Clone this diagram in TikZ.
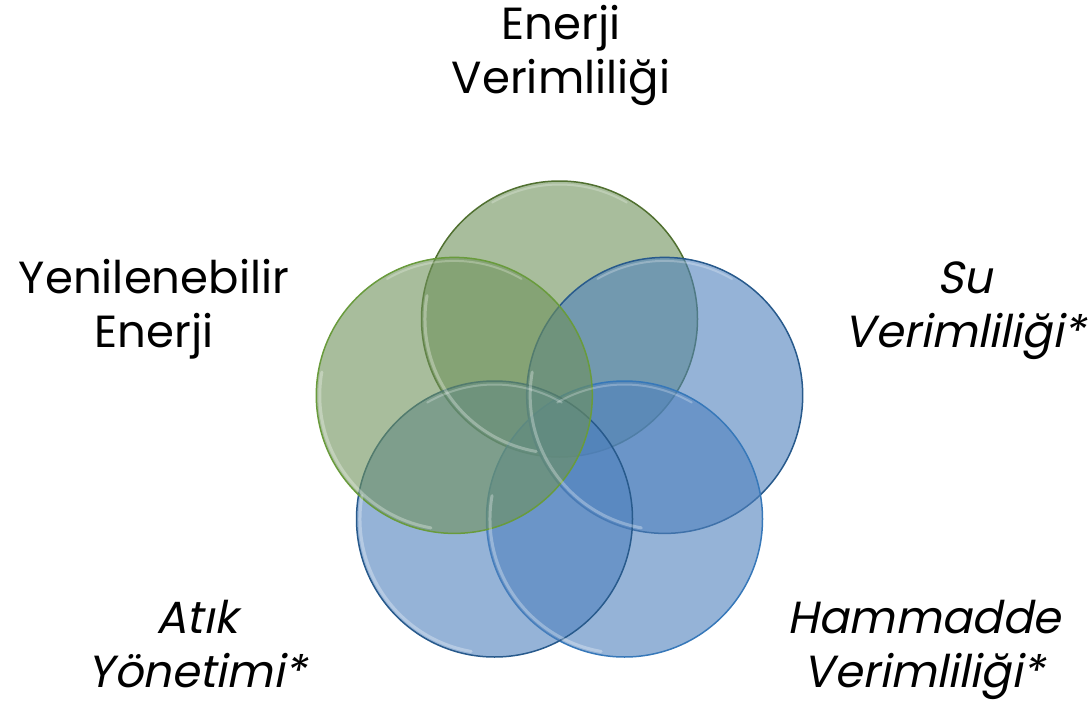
\documentclass[tikz,border=0pt]{standalone}
\usepackage{fontspec}
\setmainfont{Poppins}
\newfontfamily\obl{Poppins}[FakeSlant=0.2]
\usetikzlibrary{calc}
\definecolor{gfill}{RGB}{110,145,90}
\definecolor{bfill}{RGB}{79,129,189}
\definecolor{gline}{RGB}{80,112,48}
\definecolor{gline2}{RGB}{105,155,60}
\definecolor{bline}{RGB}{40,90,140}
\definecolor{bline2}{RGB}{55,120,185}
\begin{document}
\begin{tikzpicture}[x=1pt,y=-1pt,
 ring/.style={circle, minimum size=276pt, inner sep=0pt, line width=1.5pt, fill opacity=0.6},
 gring/.style={ring, draw=gline, fill=gfill},
 bring/.style={ring, draw=bline, fill=bfill},
 lab/.style={align=center, font=\fontsize{45}{54}\selectfont, text=black, inner sep=0pt},
 olab/.style={lab, font=\fontsize{45}{54}\selectfont\obl},
 hl/.style={white, line width=3pt, opacity=0.3, line cap=round}]
\useasboundingbox (0,0) rectangle (1090,701);
\node[gring] (t) at (559.5,319) {};
\node[bring] (r) at (664.7,395.4) {};
\node[bring, draw=bline2] (br) at (624.5,519) {};
\node[bring] (bl) at (494.5,519) {};
\node[gring, draw=gline2] (l) at (454.3,395.4) {};
\foreach \n in {t,r,br,bl,l}{
 \draw[hl] ($(\n.center)+(100:134.5)$) arc[start angle=100, end angle=190, radius=134.5];
 \draw[hl, line width=2pt, opacity=0.25] ($(\n.center)+(240:134.5)$) arc[start angle=240, end angle=300, radius=134.5];
}
\node[lab, anchor=base] (ev) at (561,93) {Enerji\\Verimliliği};
\node[lab, anchor=base] (ye) at (154,347) {Yenilenebilir\\Enerji};
\node[olab, anchor=base] (sv) at (965,347) {Su\\Verimliliği*};
\node[olab, anchor=base] (ay) at (197,687) {Atık\\Yönetimi*};
\node[olab, anchor=base] (hv) at (924,687) {Hammadde\\Verimliliği*};
\end{tikzpicture}
\end{document}
